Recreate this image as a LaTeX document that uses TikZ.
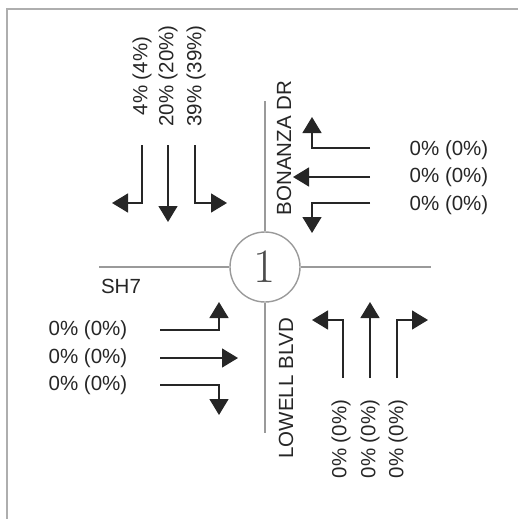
\documentclass[tikz,border=0pt]{standalone}
\usepackage{fontspec}
\setmainfont{Liberation Sans}
\usetikzlibrary{arrows.meta}
\definecolor{roadgray}{HTML}{9A9A9A}
\definecolor{txtgray}{HTML}{262626}
\tikzset{
  road/.style={draw=roadgray, line width=2.8pt},
  mv/.style={draw=black!85, line width=1.4pt, -{Triangle[length=16pt,width=19pt]}},
  lbl/.style={text=txtgray, font=\fontsize{20.5}{24}\selectfont, inner sep=0pt},
}
\begin{document}
\begin{tikzpicture}[x=1pt,y=-1pt]
        \useasboundingbox (0,0) rectangle (518,519);
        % frame
        \draw[roadgray!80, line width=2pt] (7,519) -- (7,9) -- (518,9);
        % intersection and roads
        \node[draw=roadgray, line width=1.4pt, circle, minimum size=70pt, inner sep=0pt,
              text=black!70, font=\fontfamily{lmr}\fontsize{48}{48}\selectfont] (int) at (265,267) {1};
        \draw[road] (int.west) -- ++(-130,0);
        \draw[road] (int.east) -- ++(130,0);
        \draw[road] (int.north) -- ++(0,-130);
        \draw[road] (int.south) -- ++(0,130);
        \node[lbl, rotate=90] (bonanza) at (284,148) {BONANZA DR};
        \node[lbl, rotate=90] (lowell) at (286,388) {LOWELL BLVD};
        \node[lbl] (sh7) at (121,286) {SH7};
        % southbound
        \draw[mv] (142,145) |- (112,203);
        \draw[mv] (168,145) -- (168,222);
        \draw[mv] (195,145) |- (227,203);
        \node[lbl, rotate=90] (sbl) at (142,76) {4\% (4\%)};
        \node[lbl, rotate=90] (sbt) at (168,76) {20\% (20\%)};
        \node[lbl, rotate=90] (sbr) at (196,76) {39\% (39\%)};
        % westbound
        \draw[mv] (370,148) -| (312,117);
        \draw[mv] (370,177) -- (293,177);
        \draw[mv] (370,203) -| (312,233);
        \node[lbl] (wbr) at (449,150) {0\% (0\%)};
        \node[lbl] (wbt) at (449,177) {0\% (0\%)};
        \node[lbl] (wbl) at (449,205) {0\% (0\%)};
        % eastbound
        \draw[mv] (160,330) -| (219,302);
        \draw[mv] (160,358) -- (238,358);
        \draw[mv] (160,385) -| (219,415);
        \node[lbl] (ebl) at (88,330) {0\% (0\%)};
        \node[lbl] (ebt) at (88,358) {0\% (0\%)};
        \node[lbl] (ebr) at (88,385) {0\% (0\%)};
        % northbound
        \draw[mv] (343,378) |- (312,320);
        \draw[mv] (370,378) -- (370,302);
        \draw[mv] (397,378) |- (428,320);
        \node[lbl, rotate=90] (nbl) at (341,439) {0\% (0\%)};
        \node[lbl, rotate=90] (nbt) at (370,439) {0\% (0\%)};
        \node[lbl, rotate=90] (nbr) at (398,439) {0\% (0\%)};
      \end{tikzpicture}
\end{document}
